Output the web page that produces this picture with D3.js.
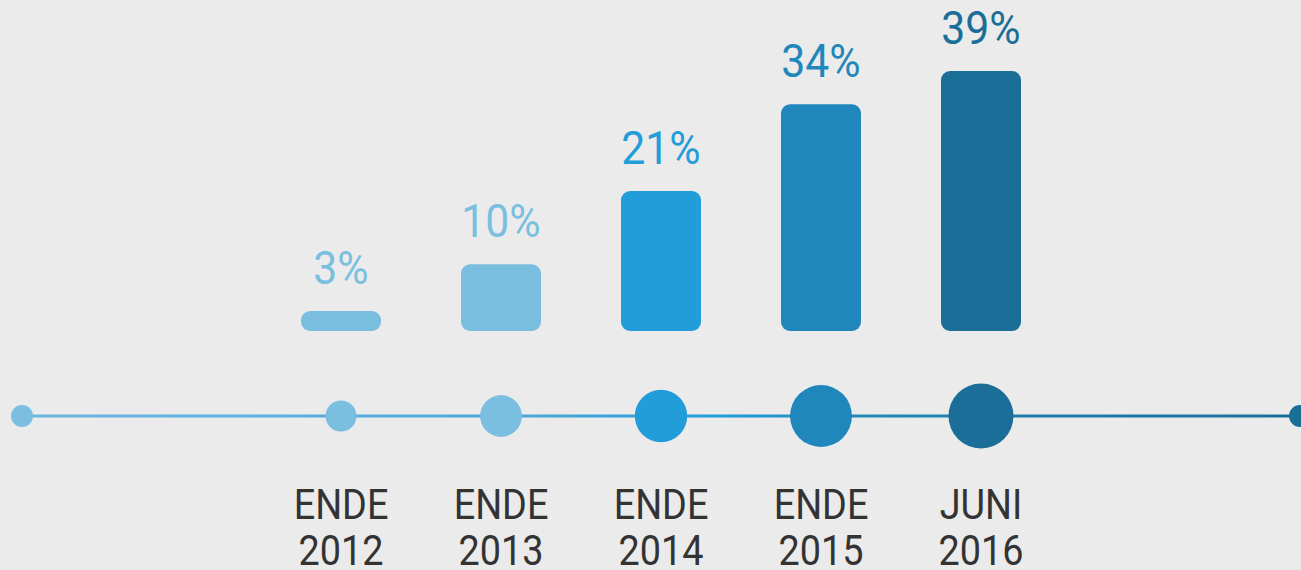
<!doctype html>
<html lang="de">
<head>
    <meta charset="UTF-8">
    <title>Anteil</title>
    <style>
        html, body { margin: 0; padding: 0; background: #ebebeb; overflow: hidden; }
    </style>
</head>
<body>

<div class="canvas"></div>

<script src="https://d3js.org/d3.v7.min.js"></script>
<script>
    // data
    const periods = ['ENDE 2012', 'ENDE 2013', 'ENDE 2014', 'ENDE 2015', 'JUNI 2016'];
    const shares = [3, 10, 21, 34, 39];
    const palette = ['#7bbfe0', '#7bbfe0', '#239dd9', '#1f87bb', '#1a6e97'];

    const svgWidth = 1301;
    const svgHeight = 570;
    const barBottom = 331;
    const lineY = 416;

    const svg = d3.select('.canvas').append('svg')
        .attr('width', svgWidth)
        .attr('height', svgHeight)
        .style('display', 'block')
    ;

    svg.append('rect')
        .attr('width', svgWidth)
        .attr('height', svgHeight)
        .attr('fill', '#ebebeb')
    ;

    const x = d3.scaleBand()
        .domain(periods)
        .range([261, 1061])
        .paddingInner(0.5)
        .paddingOuter(0.25)
    ;
    const y = d3.scaleLinear()
        .domain([0, d3.max(shares)])
        .range([barBottom, 71])
    ;
    const color = d3.scaleOrdinal().domain(periods).range(palette);
    const radius = d3.scaleSqrt().domain([0, d3.max(shares)]).range([9, 32.5]);

    const data = periods.map((p, i) => ({ period: p, share: shares[i] }));
    const cx = d => x(d.period) + x.bandwidth() / 2;

    // bars
    svg.selectAll('rect.bar')
        .data(data)
        .enter()
        .append('rect')
        .attr('class', 'bar')
        .attr('x', d => x(d.period))
        .attr('y', d => y(d.share))
        .attr('width', x.bandwidth())
        .attr('height', d => barBottom - y(d.share))
        .attr('rx', 9)
        .attr('fill', d => color(d.period))
    ;

    // value labels
    svg.selectAll('g.value')
        .data(data)
        .enter()
        .append('g')
        .attr('class', 'value')
        .attr('transform', d => `translate(${cx(d)}, ${y(d.share) - 27}) scale(0.93, 1)`)
        .append('text')
        .attr('text-anchor', 'middle')
        .attr('font-family', 'Roboto, sans-serif')
        .attr('font-size', 46)
        .attr('fill', d => color(d.period))
        .text(d => d.share + '%')
    ;

    // timeline
    const defs = svg.append('defs');
    const grad = defs.append('linearGradient')
        .attr('id', 'lineGrad')
        .attr('gradientUnits', 'userSpaceOnUse')
        .attr('x1', 0).attr('x2', svgWidth)
        .attr('y1', 0).attr('y2', 0)
    ;
    grad.append('stop').attr('offset', '0%').attr('stop-color', '#6cb9e2');
    grad.append('stop').attr('offset', '40%').attr('stop-color', '#4aa8dc');
    grad.append('stop').attr('offset', '55%').attr('stop-color', '#239dd9');
    grad.append('stop').attr('offset', '68%').attr('stop-color', '#1f87bb');
    grad.append('stop').attr('offset', '100%').attr('stop-color', '#1a6e97');

    svg.append('line')
        .attr('x1', 22)
        .attr('x2', svgWidth)
        .attr('y1', lineY)
        .attr('y2', lineY)
        .attr('stroke', 'url(#lineGrad)')
        .attr('stroke-width', 3)
    ;

    // end dots
    svg.append('circle').attr('cx', 22).attr('cy', lineY).attr('r', 11).attr('fill', palette[0]);
    svg.append('circle').attr('cx', 1300).attr('cy', lineY).attr('r', 11).attr('fill', palette[4]);

    svg.selectAll('circle.dot')
        .data(data)
        .enter()
        .append('circle')
        .attr('class', 'dot')
        .attr('cx', cx)
        .attr('cy', lineY)
        .attr('r', d => radius(d.share))
        .attr('fill', d => color(d.period))
    ;

    // category labels, two lines each
    const labels = svg.selectAll('g.cat')
        .data(data)
        .enter()
        .append('g')
        .attr('class', 'cat')
        .attr('transform', d => `translate(${cx(d)}, 0) scale(0.9, 1)`)
        .append('text')
        .attr('text-anchor', 'middle')
        .attr('font-family', 'Roboto, sans-serif')
        .attr('font-size', 42)
        .attr('fill', '#333333')
    ;
    labels.selectAll('tspan')
        .data(d => d.period.split(' '))
        .enter()
        .append('tspan')
        .attr('x', 0)
        .attr('y', (t, i) => 519 + i * 46)
        .text(t => t)
    ;
</script>
</body>
</html>
